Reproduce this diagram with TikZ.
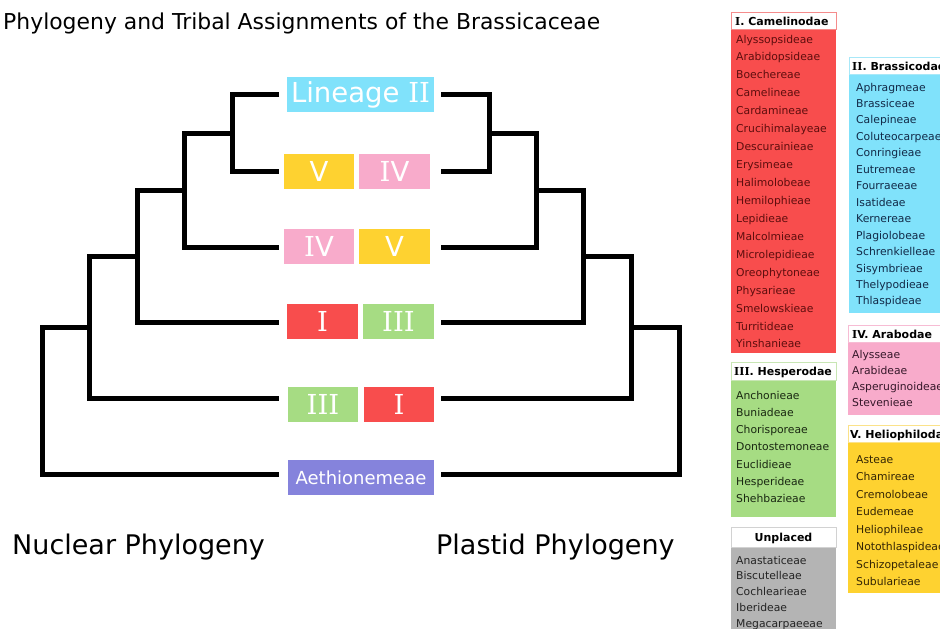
\documentclass[tikz,border=0pt]{standalone}
\usepackage{fontspec}
\setmainfont{DejaVu Sans}
\newfontfamily\serfont{DejaVu Serif}
\newcommand{\RmI}{{\serfont I}}
\definecolor{cRed}{HTML}{F84D4D}
\definecolor{cBlue}{HTML}{80E2FB}
\definecolor{cYel}{HTML}{FED230}
\definecolor{cPink}{HTML}{F8ABCB}
\definecolor{cGreen}{HTML}{A6DC83}
\definecolor{cPurp}{HTML}{8583DC}
\definecolor{cGray}{HTML}{B4B4B4}
\definecolor{bRed}{HTML}{F58C8C}
\definecolor{bBlue}{HTML}{A8E8F8}
\definecolor{bGreen}{HTML}{C8E6B4}
\definecolor{bPink}{HTML}{F7BCD4}
\definecolor{bYel}{HTML}{FBE28A}
\definecolor{bGray}{HTML}{D2D2D2}
\definecolor{tRed}{HTML}{5E0E0E}
\definecolor{tBlue}{HTML}{122A48}
\definecolor{tGreen}{HTML}{1A2812}
\definecolor{tPink}{HTML}{36182A}
\definecolor{tYel}{HTML}{352604}
\definecolor{tGray}{HTML}{242424}
\begin{document}
\begin{tikzpicture}[x=1pt,y=-1pt,
  branch/.style={line width=5pt, line join=miter},
  clade/.style={fill=#1, text=white, inner sep=0, minimum height=35pt, font=\fontsize{27.5}{30}\selectfont},
  item/.style={anchor=base west, inner sep=0, font=\fontsize{10.8}{12}\selectfont},
  hdr/.style={anchor=base west, inner sep=0, font=\bfseries\fontsize{11}{13}\selectfont, text=black},
  big/.style={anchor=base west, inner sep=0, font=\fontsize{27}{30}\selectfont}]
\useasboundingbox (0,0) rectangle (940,629);
\clip (0,0) rectangle (940,629);

% title
\node[anchor=base west, inner sep=0, font=\fontsize{21.9}{26}\selectfont] (title) at (3,29) {Phylogeny and Tribal Assignments of the Brassicaceae};

% clade boxes
\node[clade=cBlue, minimum width=147pt] (lin2) at (360.5,94.5) {Lineage \RmI\RmI};
\node[clade=cYel, minimum width=70pt] (r2a) at (319,171) {V};
\node[clade=cPink, minimum width=71pt] (r2b) at (394.5,171) {\RmI V};
\node[clade=cPink, minimum width=70pt] (r3a) at (319,246.5) {\RmI V};
\node[clade=cYel, minimum width=71pt] (r3b) at (394.5,246.5) {V};
\node[clade=cRed, minimum width=71pt] (r4a) at (322.5,321.5) {\RmI};
\node[clade=cGreen, minimum width=71pt] (r4b) at (398.5,321.5) {\RmI\RmI\RmI};
\node[clade=cGreen, minimum width=70pt] (r5a) at (323,404.5) {\RmI\RmI\RmI};
\node[clade=cRed, minimum width=70pt] (r5b) at (399,404.5) {\RmI};
\node[clade=cPurp, minimum width=146pt, font=\fontsize{18}{20}\selectfont] (aeth) at (361,477.5) {Aethionemeae};

% left tree
\coordinate (la1) at (279,94);
\coordinate (la2) at (279,171);
\coordinate (la3) at (279,247);
\coordinate (la4) at (279,322);
\coordinate (la5) at (279,398);
\coordinate (la6) at (279,474);
\coordinate (ln1) at (232,133);
\coordinate (ln2) at (184,190);
\coordinate (ln3) at (137,256);
\coordinate (ln4) at (89,327);
\coordinate (ln5) at (42,400);
\draw[branch] (la1) -| (ln1) |- (la2);
\draw[branch] (ln1) -| (ln2) |- (la3);
\draw[branch] (ln2) -| (ln3) |- (la4);
\draw[branch] (ln3) -| (ln4) |- (la5);
\draw[branch] (ln4) -| (ln5) |- (la6);

% right tree
\coordinate (ra1) at (441,94);
\coordinate (ra2) at (441,171);
\coordinate (ra3) at (441,247);
\coordinate (ra4) at (441,322);
\coordinate (ra5) at (441,398);
\coordinate (ra6) at (441,474);
\coordinate (rn1) at (489,133);
\coordinate (rn2) at (536,190);
\coordinate (rn3) at (583,256);
\coordinate (rn4) at (631,327);
\coordinate (rn5) at (679,400);
\draw[branch] (ra1) -| (rn1) |- (ra2);
\draw[branch] (rn1) -| (rn2) |- (ra3);
\draw[branch] (rn2) -| (rn3) |- (ra4);
\draw[branch] (rn3) -| (rn4) |- (ra5);
\draw[branch] (rn4) -| (rn5) |- (ra6);

% bottom labels
\node[big] (nuc) at (12,554) {Nuclear Phylogeny};
\node[big] (pla) at (436,554) {Plastid Phylogeny};

% legend: I. Camelinodae
\fill[cRed] (731,29) rectangle (836,353);
\draw[bRed, line width=1pt, fill=white] (731,12) rectangle (836,29);
\node[hdr] (hcam) at (735,25) {{\serfont\bfseries I}. Camelinodae};
\foreach \t [count=\i from 0] in {Alyssopsideae,Arabidopsideae,Boechereae,Camelineae,Cardamineae,Crucihimalayeae,Descurainieae,Erysimeae,Halimolobeae,Hemilophieae,Lepidieae,Malcolmieae,Microlepidieae,Oreophytoneae,Physarieae,Smelowskieae,Turritideae,Yinshanieae}
  \node[item, text=tRed] (cam\i) at (736,43+17.94*\i) {\t};

% II. Brassicodae
\fill[cBlue] (849,74) rectangle (945,313);
\draw[bBlue, line width=1pt, fill=white] (849,57) rectangle (945,74);
\node[hdr] (hbra) at (852,70) {{\serfont\bfseries II}. Brassicodae};
\foreach \t [count=\i from 0] in {Aphragmeae,Brassiceae,Calepineae,Coluteocarpeae,Conringieae,Eutremeae,Fourraeeae,Isatideae,Kernereae,Plagiolobeae,Schrenkielleae,Sisymbrieae,Thelypodieae,Thlaspideae}
  \node[item, text=tBlue] (bra\i) at (856,91+16.46*\i) {\t};

% IV. Arabodae
\fill[cPink] (848,342) rectangle (945,415);
\draw[bPink, line width=1pt, fill=white] (848,325) rectangle (945,342);
\node[hdr] (hara) at (852,338) {{\serfont\bfseries I}V. Arabodae};
\foreach \t [count=\i from 0] in {Alysseae,Arabideae,Asperuginoideae,Stevenieae}
  \node[item, text=tPink] (ara\i) at (852,358+16.3*\i) {\t};

% V. Heliophilodae
\fill[cYel] (848,442) rectangle (945,593);
\draw[bYel, line width=1pt, fill=white] (848,425) rectangle (945,442);
\node[hdr] (hhel) at (850,438) {V. Heliophilodae};
\foreach \t [count=\i from 0] in {Asteae,Chamireae,Cremolobeae,Eudemeae,Heliophileae,Notothlaspideae,Schizopetaleae,Subularieae}
  \node[item, text=tYel] (hel\i) at (856,463+17.57*\i) {\t};

% III. Hesperodae
\fill[cGreen] (731,380) rectangle (836,517);
\draw[bGreen, line width=1pt, fill=white] (731,362) rectangle (836,380);
\node[hdr] (hhes) at (734,375.5) {{\serfont\bfseries III}. Hesperodae};
\foreach \t [count=\i from 0] in {Anchonieae,Buniadeae,Chorisporeae,Dontostemoneae,Euclidieae,Hesperideae,Shehbazieae}
  \node[item, text=tGreen] (hes\i) at (736,399+17.33*\i) {\t};

% Unplaced
\fill[cGray] (731,547) rectangle (836,640);
\draw[bGray, line width=1pt, fill=white] (731,527) rectangle (836,547);
\node[hdr, anchor=base] (hunp) at (783.5,541.5) {Unplaced};
\foreach \t [count=\i from 0] in {Anastaticeae,Biscutelleae,Cochlearieae,Iberideae,Megacarpaeeae}
  \node[item, text=tGray] (unp\i) at (736,564+15.75*\i) {\t};
\end{tikzpicture}
\end{document}
